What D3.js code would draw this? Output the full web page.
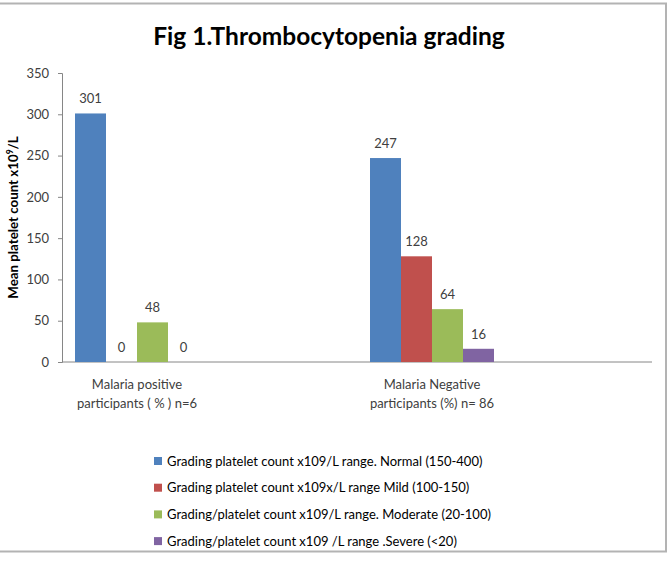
<!DOCTYPE html>
<html>
<head>
<meta charset="utf-8">
<script src="https://cdn.jsdelivr.net/npm/d3@7"></script>
<style>
  body { margin: 0; background: #fff; }
  text { font-family: Lato, "Open Sans", sans-serif; }
</style>
</head>
<body>
<div id="chart"></div>
<script>
// data
const categories = [
  ["Malaria positive", "participants ( % ) n=6"],
  ["Malaria Negative", "participants (%) n= 86"]
];
const seriesNames = [
  "Grading platelet count x109/L range. Normal (150-400)",
  "Grading platelet count x109x/L range Mild (100-150)",
  "Grading/platelet count x109/L range. Moderate (20-100)",
  "Grading/platelet count x109 /L range .Severe (<20)"
];
const normalVals = [301, 247];
const mildVals = [0, 128];
const moderateVals = [48, 64];
const severeVals = [0, 16];
const yTicks = [0, 50, 100, 150, 200, 250, 300, 350];
const colors = ["#4F81BD", "#C0504D", "#9BBB59", "#8064A2"];

const seriesVals = [normalVals, mildVals, moderateVals, severeVals];

const W = 668, H = 562;
const margin = {top: 73, left: 62, right: 16, bottom: 200};
const plotW = W - margin.left - margin.right;
const plotH = H - margin.top - margin.bottom;

const svg = d3.select("#chart").append("svg")
  .attr("width", W).attr("height", H);

// outer frame (left edge falls outside the picture)
svg.append("rect")
  .attr("x", -4).attr("y", 3.5)
  .attr("width", 670).attr("height", 548)
  .attr("fill", "none").attr("stroke", "#b3b3b3").attr("stroke-width", 2);

svg.append("text")
  .attr("x", 329).attr("y", 45)
  .attr("text-anchor", "middle")
  .attr("font-size", 24.5).attr("font-weight", "bold").attr("fill", "#000")
  .text("Fig 1.Thrombocytopenia grading");

const g = svg.append("g")
  .attr("transform", "translate(" + margin.left + "," + margin.top + ")");

const catKeys = categories.map(function(d, i) { return i; });
const x0 = d3.scaleBand().domain(catKeys).range([0, plotW]);
const x1 = d3.scaleBand().domain(d3.range(seriesNames.length)).range([13, 137]);
const y = d3.scaleLinear().domain([0, 350]).range([plotH, 0]);

// y axis
const yAxis = g.append("g")
  .call(d3.axisLeft(y).tickValues(yTicks).tickSize(4).tickPadding(9));
yAxis.select(".domain").attr("stroke", "#868686");
yAxis.selectAll(".tick line").attr("stroke", "#868686");
yAxis.selectAll(".tick text")
  .attr("font-size", 13).attr("fill", "#404040")
  .style("font-family", "Lato, sans-serif");

// x axis line
g.append("line")
  .attr("x1", 0).attr("x2", plotW)
  .attr("y1", y(0)).attr("y2", y(0))
  .attr("stroke", "#868686");

g.append("text")
  .attr("transform", "translate(-44," + (plotH / 2) + ") rotate(-90)")
  .attr("text-anchor", "middle")
  .attr("font-size", 13.3).attr("font-weight", "bold").attr("fill", "#000")
  .html('Mean platelet count x10<tspan dy="-5" font-size="8.5">9</tspan><tspan dy="5">/L</tspan>');

// bars
const groups = g.selectAll(".grp")
  .data(catKeys)
  .enter().append("g")
    .attr("class", "grp")
    .attr("transform", function(d) { return "translate(" + x0(d) + ",0)"; });

groups.selectAll("rect")
  .data(function(c) { return seriesVals.map(function(v, s) { return {s: s, v: v[c]}; }); })
  .enter().append("rect")
    .attr("x", function(d) { return x1(d.s); })
    .attr("y", function(d) { return y(d.v); })
    .attr("width", x1.bandwidth())
    .attr("height", function(d) { return plotH - y(d.v); })
    .attr("fill", function(d) { return colors[d.s]; });

groups.selectAll(".lbl")
  .data(function(c) { return seriesVals.map(function(v, s) { return {s: s, v: v[c]}; }); })
  .enter().append("text")
    .attr("class", "lbl")
    .attr("x", function(d) { return x1(d.s) + x1.bandwidth() / 2; })
    .attr("y", function(d) { return y(d.v) - 10; })
    .attr("text-anchor", "middle")
    .attr("font-size", 13).attr("fill", "#404040")
    .text(function(d) { return d.v; });

// category labels
const mid = (x1.range()[0] + x1.range()[1]) / 2;
groups.each(function(c) {
  const t = d3.select(this).append("text")
    .attr("text-anchor", "middle")
    .attr("font-size", 13).attr("fill", "#404040");
  categories[c].forEach(function(line, i) {
    t.append("tspan")
      .attr("x", mid)
      .attr("y", plotH + 27 + i * 19)
      .text(line);
  });
});

// legend
const leg = svg.append("g").attr("transform", "translate(154,461)");
const rows = leg.selectAll("g")
  .data(seriesNames)
  .enter().append("g")
    .attr("transform", function(d, i) { return "translate(0," + (i * 26.7) + ")"; });
rows.append("rect")
  .attr("x", 0).attr("y", -4)
  .attr("width", 8).attr("height", 8)
  .attr("fill", function(d, i) { return colors[i]; });
rows.append("text")
  .attr("x", 13).attr("y", 4.5)
  .attr("font-size", 13).attr("fill", "#000")
  .text(function(d) { return d; });
</script>
</body>
</html>
